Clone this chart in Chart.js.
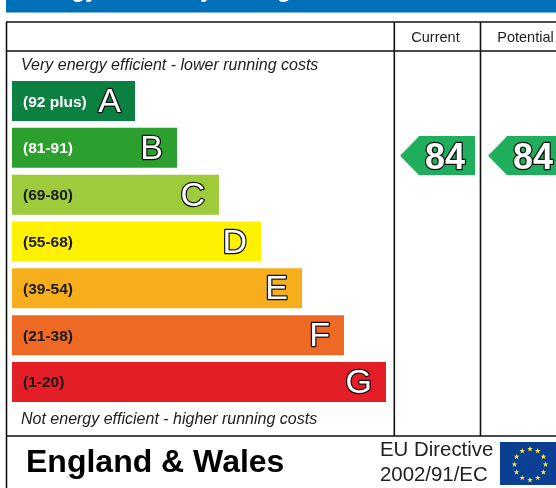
<!DOCTYPE html>
<html>
<head>
<meta charset="utf-8">
<title>Energy Efficiency Rating</title>
<script src="https://cdn.jsdelivr.net/npm/chart.js@4"></script>
<style>
html, body { margin: 0; padding: 0; background: #fff; overflow: hidden; }
#wrap { width: 556px; height: 488px; }
</style>
</head>
<body>
<div id="wrap"><canvas id="chart" width="556" height="488"></canvas></div>
<script>
// bands, top to bottom
const bandLetters = ["A", "B", "C", "D", "E", "F", "G"];
const bandRanges = ["(92 plus)", "(81-91)", "(69-80)", "(55-68)", "(39-54)", "(21-38)", "(1-20)"];
const bandLengths = [123, 165, 207, 249, 290, 332, 374];
const bandColors = ["#0b8040", "#2ca02f", "#9dcb3c", "#fff200", "#f6ae1d", "#ee6a24", "#e41e26"];
const rangeColors = ["#ffffff", "#ffffff", "#1a1a1a", "#1a1a1a", "#1a1a1a", "#1a1a1a", "#1a1a1a"];

// rating columns
const ratingColumns = ["Current", "Potential"];
const ratingValues = [84, 84];

const titleText = "Energy Efficiency Rating";
const topNote = "Very energy efficient - lower running costs";
const bottomNote = "Not energy efficient - higher running costs";
const regionText = "England & Wales";
const directiveLines = ["EU Directive", "2002/91/EC"];

const FONT = '"Liberation Sans", Arial, sans-serif';

// arrow marker used as the point style for the ratings
function makeArrow() {
    const c = document.createElement("canvas");
    c.width = 75;
    c.height = 39;
    const g = c.getContext("2d");
    g.fillStyle = "#1fae5b";
    g.beginPath();
    g.moveTo(0, 19.5);
    g.lineTo(19, 0);
    g.lineTo(75, 0);
    g.lineTo(75, 39);
    g.lineTo(19, 39);
    g.closePath();
    g.fill();
    return c;
}

function outlined(ctx, text, x, y, font, lineWidth) {
    ctx.font = font;
    ctx.lineJoin = "round";
    ctx.lineWidth = lineWidth;
    ctx.strokeStyle = "#111";
    ctx.strokeText(text, x, y);
    ctx.fillStyle = "#fff";
    ctx.fillText(text, x, y);
}

// header, frame, notes and footer sit behind the bars
const framePlugin = {
    id: "frame",
    beforeDatasetsDraw(chart) {
        const ctx = chart.ctx;
        ctx.save();
        ctx.fillStyle = "#0070b9";
        ctx.fillRect(6, 0, 550, 12.5);
        ctx.beginPath();
        ctx.rect(6, 0, 550, 12.5);
        ctx.clip();
        ctx.fillStyle = "#fff";
        ctx.font = "bold 23px " + FONT;
        ctx.textBaseline = "alphabetic";
        ctx.textAlign = "left";
        ctx.fillText(titleText, 20, -3.5);
        ctx.restore();

        ctx.save();
        ctx.strokeStyle = "#111";
        ctx.lineWidth = 1.6;
        ctx.beginPath();
        ctx.moveTo(6, 22); ctx.lineTo(556, 22);
        ctx.moveTo(6.5, 22); ctx.lineTo(6.5, 488);
        ctx.moveTo(6, 51); ctx.lineTo(556, 51);
        ctx.moveTo(6, 436); ctx.lineTo(556, 436);
        ctx.moveTo(394.3, 22); ctx.lineTo(394.3, 436);
        ctx.moveTo(480.5, 22); ctx.lineTo(480.5, 436);
        ctx.stroke();

        ctx.textBaseline = "alphabetic";
        ctx.textAlign = "center";
        ctx.fillStyle = "#222";
        ctx.font = "14.5px " + FONT;
        ctx.fillText(ratingColumns[0], 435.5, 42);
        ctx.fillText(ratingColumns[1], 525.5, 42);

        ctx.textAlign = "left";
        ctx.font = "italic 16px " + FONT;
        ctx.fillText(topNote, 21, 70);
        ctx.fillText(bottomNote, 21, 424);

        ctx.fillStyle = "#000";
        ctx.font = "bold 32px " + FONT;
        ctx.fillText(regionText, 26, 472);

        ctx.fillStyle = "#222";
        ctx.font = "20.4px " + FONT;
        ctx.fillText(directiveLines[0], 380, 456);
        ctx.fillText(directiveLines[1], 380, 481);

        // EU flag
        ctx.fillStyle = "#0b3f94";
        ctx.fillRect(500, 442, 56, 43);
        ctx.fillStyle = "#f7e33b";
        for (let i = 0; i < 12; i++) {
            const a = i * Math.PI / 6;
            const cx = 530 + 15.5 * Math.sin(a);
            const cy = 464.5 - 15.5 * Math.cos(a);
            ctx.beginPath();
            for (let k = 0; k < 10; k++) {
                const r = k % 2 ? 1.2 : 3;
                const b = k * Math.PI / 5;
                ctx.lineTo(cx + r * Math.sin(b), cy - r * Math.cos(b));
            }
            ctx.closePath();
            ctx.fill();
        }
        ctx.restore();
    },
    afterDatasetsDraw(chart) {
        const ctx = chart.ctx;
        ctx.save();
        ctx.textBaseline = "alphabetic";

        // labels on each band, taken from the bar elements
        chart.getDatasetMeta(0).data.forEach((bar, i) => {
            ctx.textAlign = "left";
            ctx.font = "bold 15.5px " + FONT;
            ctx.fillStyle = rangeColors[i];
            ctx.fillText(bandRanges[i], 23, bar.y + 5.5);
            ctx.textAlign = "right";
            outlined(ctx, bandLetters[i], bar.x - 14, bar.y + 11, "34px " + FONT, 2.5);
        });

        // rating numbers on the arrows
        chart.getDatasetMeta(1).data.forEach((pt, i) => {
            ctx.textAlign = "center";
            outlined(ctx, String(ratingValues[i]), pt.x + 7.5, pt.y + 13, "bold 36px " + FONT, 2.5);
        });
        ctx.restore();
    }
};

new Chart(document.getElementById("chart"), {
    type: "bar",
    plugins: [framePlugin],
    data: {
        labels: bandLetters,
        datasets: [
            {
                label: "Band",
                data: bandLengths,
                backgroundColor: bandColors,
                borderWidth: 0,
                grouped: false,
                categoryPercentage: 1,
                barPercentage: 0.854,
                xAxisID: "x",
                yAxisID: "y"
            },
            {
                type: "scatter",
                label: "Rating",
                indexAxis: "x",
                data: ratingValues.map((v, i) => ({ x: i, y: v })),
                xAxisID: "xRating",
                yAxisID: "yRating",
                pointStyle: makeArrow(),
                clip: false
            }
        ]
    },
    options: {
        indexAxis: "y",
        responsive: false,
        animation: false,
        layout: { autoPadding: false, padding: { left: 12, right: 0, top: 77.6, bottom: 82.6 } },
        plugins: { legend: { display: false }, tooltip: { enabled: false } },
        scales: {
            x: { type: "linear", display: false, min: 0, max: 544 },
            y: { type: "category", display: false, offset: true },
            xRating: { type: "linear", axis: "x", display: false, min: -4.835, max: 1.347 },
            yRating: { type: "linear", axis: "y", display: false, min: 0, max: 103.2 }
        }
    }
});
</script>
</body>
</html>
